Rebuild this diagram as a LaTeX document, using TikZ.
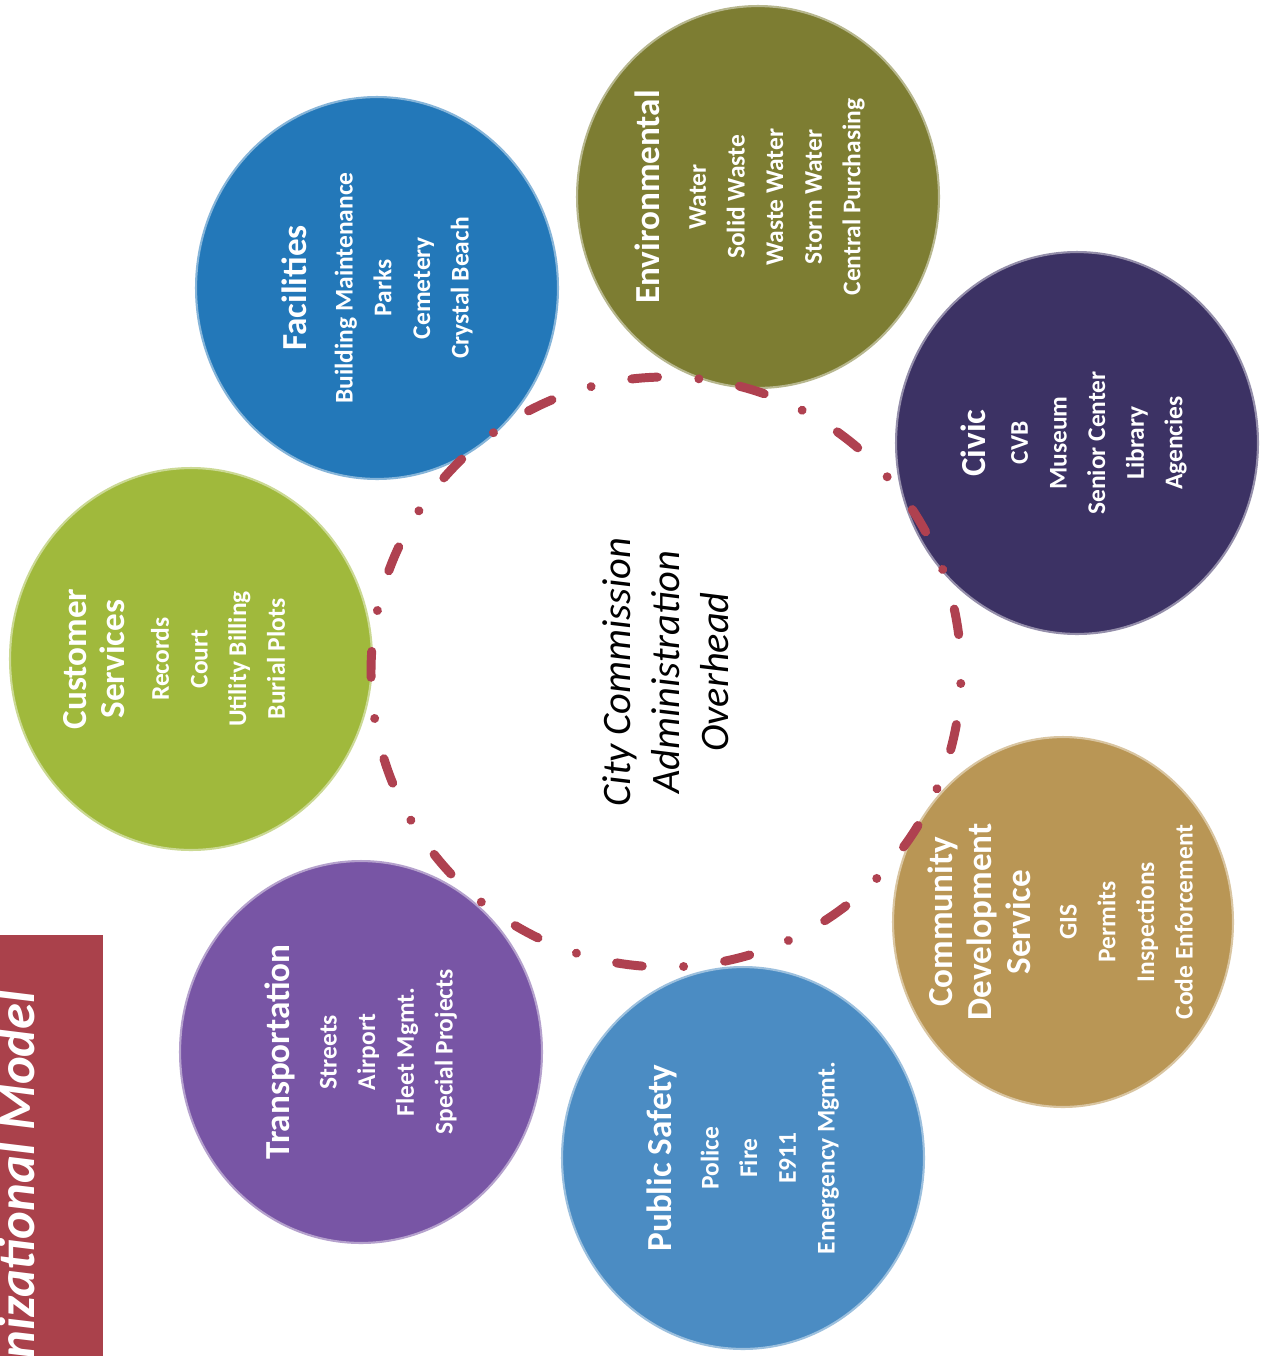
\documentclass[tikz,border=0pt]{standalone}
\usepackage{fontspec}
\setmainfont{Carlito}
\usetikzlibrary{shapes.geometric}

\definecolor{facblue}{HTML}{2378B9}
\definecolor{envolive}{HTML}{7D7D32}
\definecolor{civicpurple}{HTML}{3C3264}
\definecolor{custgreen}{HTML}{A0B93C}
\definecolor{transviolet}{HTML}{7855A5}
\definecolor{safetyblue}{HTML}{4B8CC3}
\definecolor{devgold}{HTML}{B99655}
\definecolor{ringred}{HTML}{AF4150}
\definecolor{bandred}{HTML}{AA414B}

\newcommand{\unithead}[1]{{\fontsize{20}{22}\selectfont #1}}

\begin{document}
\begin{tikzpicture}[x=0.02cm, y=-0.02cm,
    bubble/.style={ellipse, rotate=90, minimum width=7.64cm, minimum height=7.24cm,
        inner sep=-20pt, align=center, text=white, fill=#1, draw=#1!55!white,
        line width=1.2pt, font=\bfseries\fontsize{14.5}{22}\selectfont},
    hubtext/.style={rotate=90, align=center, font=\itshape\fontsize{23}{28}\selectfont},
    loopline/.style={ringred, line width=5.1pt, line cap=round,
        dash pattern=on 14.74pt off 23.53pt on 0.01pt off 23.53pt, dash phase=31.75pt}]
\useasboundingbox (0,0) rectangle (1262,1356);
\clip (0,0) rectangle (1262,1356);
\fill[white] (0,0) rectangle (1262,1356);

%Band
\fill[bandred] (0,935) rectangle (103,1356);
\node[rotate=90, anchor=base east, text=white, inner sep=0pt,
    font=\bfseries\itshape\fontsize{30}{34}\selectfont] (band) at (34,990) {nizational Model};

%Nodes
\node[bubble=facblue]     (facil)  at (377,288)  {\unithead{Facilities}\\[4.6pt]
    Building Maintenance\\ Parks\\ Cemetery\\ Crystal Beach};
\node[bubble=envolive]    (envir)  at (758,197)  {\unithead{Environmental}\\[4.6pt]
    Water\\ Solid Waste\\ Waste Water\\ Storm Water\\ Central Purchasing\\[-10pt]\mbox{}};
\node[bubble=civicpurple] (civic)  at (1077,443) {\unithead{Civic}\\[2pt]
    CVB\\ Museum\\ Senior Center\\ Library\\ Agencies\\[-16pt]\mbox{}};
\node[bubble=custgreen]   (custsv) at (191,659)  {\unithead{Customer}\\ \unithead{Services}\\[3pt]
    Records\\ Court\\ Utility Billing\\ Burial Plots\\[-2.7pt]\mbox{}};
\node[bubble=transviolet] (transp) at (361,1052) {\unithead{Transportation}\\[4.6pt]
    Streets\\ Airport\\ Fleet Mgmt.\\ Special Projects};
\node[bubble=safetyblue]  (pubsaf) at (743,1158) {\unithead{Public Safety}\\[4.6pt]
    Police\\ Fire\\ E911\\ Emergency Mgmt.};
\node[bubble=devgold, minimum width=7.4cm, minimum height=6.8cm]
                          (comdev) at (1063,922) {\unithead{Community}\\ \unithead{Development}\\
    \unithead{Service}\\[4.6pt] GIS\\ Permits\\ Inspections\\ Code Enforcement\\[-19pt]\mbox{}};

\node[hubtext] (hub) at (666,672) {City Commission\\ Administration\\ Overhead};

%Lines
\draw[loopline] (hub.center) circle[radius=295];
\end{tikzpicture}
\end{document}
